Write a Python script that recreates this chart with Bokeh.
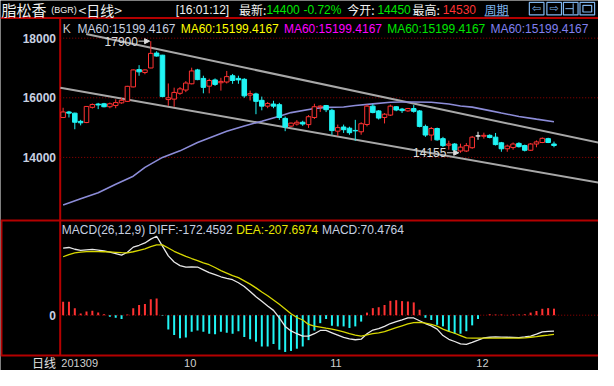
from bokeh.plotting import figure
from bokeh.models import Range1d, Arrow, NormalHead
from bokeh.core.properties import value
from bokeh.embed import file_html
from bokeh.resources import INLINE

# ---------------- data ----------------
opens = [15340, 15525, 15485, 15210, 15170, 15680, 15790, 15800, 15700, 15740,
         15830, 15880, 16365, 16945, 16850, 17000, 17500, 17430, 15940, 15955,
         16150, 16260, 16470, 16935, 16650, 16390, 16600, 16505, 16530, 16740,
         16650, 16620, 16090, 16130, 15915, 15720, 15790, 15770, 15310, 15050,
         15120, 15180, 15100, 15340, 15690, 15740, 15580, 14880, 15020, 14980,
         14905, 14860, 15105, 15720, 15560, 15340, 15420, 15700, 15620, 15560,
         15640, 15560, 15040, 14750, 14970, 14630, 14410, 14450, 14215, 14215,
         14325, 14720, 14710, 14740, 14680, 14490, 14290, 14330, 14470, 14400,
         14240, 14450, 14500, 14630, 14450]
highs = [15665, 15560, 15500, 15260, 15720, 15810, 15830, 15830, 15840, 15950,
         16000, 16400, 16950, 17095, 16950, 17900, 17560, 17440, 16480, 16340,
         16360, 16560, 17010, 16970, 16740, 16640, 16650, 16670, 16900, 16800,
         16740, 16660, 16240, 16170, 16040, 15860, 15900, 15830, 15370, 15170,
         15250, 15230, 15420, 15800, 15750, 15760, 15630, 15100, 15100, 15030,
         15260, 15180, 15770, 15790, 15590, 15485, 15770, 15720, 15660, 15660,
         15760, 15590, 15100, 15020, 15000, 14690, 14560, 14480, 14460, 14480,
         14720, 14860, 14830, 14775, 14820, 14520, 14430, 14500, 14510, 14430,
         14480, 14570, 14670, 14660, 14530]
lows = [15320, 15340, 14945, 15075, 15150, 15640, 15620, 15680, 15650, 15650,
        15800, 15860, 16350, 16740, 16790, 16990, 17380, 16020, 15730, 15700,
        16100, 16190, 16450, 16590, 16150, 16150, 16400, 16240, 16480, 16470,
        16470, 16000, 15910, 15450, 15580, 15650, 15650, 15260, 14880, 15020,
        15070, 15060, 14990, 15290, 15525, 15520, 14760, 14720, 14820, 14760,
        14560, 14760, 15040, 15480, 15270, 15140, 15390, 15550, 15490, 15530,
        15500, 15010, 14690, 14560, 14560, 14350, 14260, 14200, 14155, 14180,
        14290, 14590, 14630, 14640, 14400, 14190, 14190, 14260, 14330, 14200,
        14220, 14340, 14480, 14480, 14340]
closes = [15525, 15485, 15180, 15160, 15710, 15775, 15760, 15700, 15800, 15840,
          15915, 16385, 16935, 16870, 16935, 17490, 17400, 16040, 16000, 16180,
          16300, 16495, 16900, 16610, 16350, 16580, 16450, 16550, 16710, 16580,
          16600, 16065, 16140, 15880, 15720, 15810, 15720, 15340, 15020, 15150,
          15180, 15120, 15365, 15700, 15720, 15600, 14900, 15000, 14930, 14830,
          14890, 15130, 15720, 15505, 15320, 15450, 15720, 15590, 15570, 15640,
          15545, 15040, 14750, 14970, 14590, 14395, 14450, 14245, 14345, 14395,
          14680, 14720, 14740, 14670, 14430, 14290, 14380, 14450, 14360, 14240,
          14450, 14520, 14640, 14500, 14400]

ma60_idx = [0, 3, 6, 9, 12, 14, 17, 20, 23, 25, 28, 31, 34, 37, 39, 43,
            45, 48, 50, 53, 56, 58, 60, 63, 66, 68, 70, 73, 75, 78, 81, 84]
ma60_val = [12406, 12615, 12816, 13100, 13370, 13665, 14000, 14220, 14500, 14655,
            14875, 15055, 15215, 15380, 15503, 15640, 15678, 15690, 15740, 15795,
            15850, 15858, 15858, 15848, 15793, 15725, 15687, 15570, 15490, 15374,
            15285, 15199]

diff_vals = [724, 731, 712, 700, 705, 710, 702, 693, 680, 665,
             648, 680, 735, 755, 780, 821, 852, 745, 640, 575,
             535, 518, 522, 520, 490, 460, 438, 415, 398, 383,
             350, 310, 255, 200, 150, 100, 52, -30, -121, -170,
             -200, -225, -225, -200, -165, -165, -190, -215, -240, -255,
             -265, -259, -200, -160, -145, -120, -90, -69, -50, -30,
             -30, -60, -90, -115, -150, -220, -260, -284, -310, -315,
             -294, -270, -245, -238, -235, -236, -238, -240, -242, -235,
             -225, -205, -180, -175, -172]
dea_vals = [631, 655, 673, 680, 686, 689, 687, 685, 683, 679,
            675, 673, 685, 700, 715, 740, 759, 759, 725, 690,
            662, 635, 612, 590, 565, 545, 515, 482, 455, 428,
            405, 370, 335, 295, 250, 210, 165, 118, 68, 15,
            -25, -52, -100, -118, -128, -140, -150, -163, -180, -200,
            -215, -225, -212, -200, -190, -178, -155, -135, -115, -95,
            -80, -77, -85, -100, -118, -150, -175, -195, -220, -245,
            -248, -248, -248, -248, -248, -248, -248, -248, -248, -245,
            -238, -232, -222, -215, -207]
macd_vals = [145, 145, 76, 17, 41, 48, 28, 10, -17, -28,
             -41, 7, 76, 110, 121, 173, 179, -7, -155, -214,
             -248, -241, -179, -166, -179, -200, -207, -179, -190, -200,
             -173, -235, -259, -286, -338, -338, -311, -373, -397, -386,
             -362, -338, -269, -166, -86, -41, -114, -121, -121, -138,
             -121, -69, 28, 76, 86, 110, 155, 162, 152, 148,
             138, 59, -28, -52, -104, -121, -179, -200, -200, -173,
             -110, -41, 0, 10, 7, 7, 3, 7, 7, 10,
             28, 45, 69, 76, 70.4764]

price_ticks = [14000, 16000, 18000]
macd_ticks = [0]
month_labels = ["201309", "10", "11", "12"]
month_idx = [0, 21, 46, 71]

trend_upper_x = [3.95, 91.6]
trend_upper_y = [18138, 14495]
trend_lower_x = [-0.47, 91.6]
trend_lower_y = [16340, 13154]

high_mark_idx, high_mark_val = 15, 17900
low_mark_idx, low_mark_val = 68, 14155

ma_label = "MA60:15199.4167"
macd_title = "MACD(26,12,9) DIFF:-172.4592"
dea_title = "DEA:-207.6974"
macd_last_title = "MACD:70.4764"
latest_price, change_pct, today_open, today_high = "14400", "-0.72%", "14450", "14530"
clock = "[16:01:12]"

# ---------------- layout (reference pixel grid -> data) ----------------
W, H = 598, 370
REF_W, REF_H = 614, 386
PX_PER_BAR = 6.0
FIRST_BAR_X = 64.3
PRICE_PER_PX = 32.154
PRICE_ANCHOR_Y = 39.3        # ref y of 18000
MACD_PER_PX = 10.35
MACD_ZERO_Y = 328.3

XS = -FIRST_BAR_X / PX_PER_BAR
XE = XS + REF_W / PX_PER_BAR
YT = 18000 + PRICE_ANCHOR_Y * PRICE_PER_PX
YB = YT - REF_H * PRICE_PER_PX
MT = MACD_ZERO_Y * MACD_PER_PX
MB = MT - REF_H * MACD_PER_PX


def rx(px):
    return XS + px / PX_PER_BAR


def ry(py):
    return YT - py * PRICE_PER_PX


LATIN = value("Liberation Sans")
CJK = value("Noto Sans CJK SC")
RED_LINE = "#b40000"
UP = "#ff3232"
DOWN = "#20f4f4"

p = figure(width=W, height=H, output_backend="svg", toolbar_location=None, tools="",
           x_range=Range1d(XS, XE), y_range=Range1d(YB, YT),
           x_axis_location=None, y_axis_location=None, min_border=0,
           background_fill_color="black", border_fill_color="black",
           outline_line_color=None)
p.grid.grid_line_color = None
p.extra_y_ranges = {"macd": Range1d(MB, MT)}

idx = list(range(len(opens)))

# panel frame lines
p.segment(x0=[XS, XS, XS, rx(1)], x1=[XE, XE, XE, rx(1)],
          y0=[ry(18.3), ry(229.5), ry(370.3), ry(229.5)],
          y1=[ry(18.3), ry(229.5), ry(370.3), ry(370.3)],
          line_color=RED_LINE, line_width=2)
p.segment(x0=[rx(61.3)], x1=[rx(61.3)], y0=[ry(18.3)], y1=[ry(370.3)],
          line_color=RED_LINE, line_width=2)

# dotted grid
p.segment(x0=[-0.5] * len(price_ticks), x1=[XE] * len(price_ticks),
          y0=price_ticks, y1=price_ticks, line_color="#9a0000", line_dash="1 2", line_width=1)
p.segment(x0=[-0.5], x1=[XE], y0=macd_ticks, y1=macd_ticks, line_color="#9a0000",
          line_dash="1 2", line_width=1, y_range_name="macd")

# channel lines
p.line(trend_upper_x, trend_upper_y, line_color="#a8a8a8", line_width=2)
p.line(trend_lower_x, trend_lower_y, line_color="#a8a8a8", line_width=2)

# MA60
p.line(ma60_idx, ma60_val, line_color="#8c8cd8", line_width=1.6)

# candles
cols, fills, tops, bots = [], [], [], []
for o, c in zip(opens, closes):
    if c > o:
        cols.append(UP); fills.append("black")
    elif c < o:
        cols.append(DOWN); fills.append(DOWN)
    else:
        cols.append("#f0f0f0"); fills.append("#f0f0f0")
    tops.append(max(o, c)); bots.append(min(o, c))
p.segment(x0=idx, x1=idx, y0=lows, y1=highs, line_color=cols, line_width=1)
p.vbar(x=idx, width=0.78, top=tops, bottom=bots, fill_color=fills, line_color=cols, line_width=1)

# high / low marks
mark_col = "#dcdcdc"
p.text(x=[high_mark_idx - 2.2], y=[high_mark_val], text=[str(high_mark_val)],
       text_color=mark_col, text_font=LATIN, text_font_size="12px",
       text_align="right", text_baseline="middle")
p.add_layout(Arrow(end=NormalHead(size=5, fill_color=mark_col, line_color=mark_col),
                   x_start=high_mark_idx - 2.1, y_start=high_mark_val,
                   x_end=high_mark_idx - 0.2, y_end=high_mark_val,
                   line_color=mark_col, line_width=1))
p.text(x=[low_mark_idx - 2.4], y=[low_mark_val], text=[str(low_mark_val)],
       text_color=mark_col, text_font=LATIN, text_font_size="12px",
       text_align="right", text_baseline="middle")
p.add_layout(Arrow(end=NormalHead(size=5, fill_color=mark_col, line_color=mark_col),
                   x_start=low_mark_idx - 2.3, y_start=low_mark_val,
                   x_end=low_mark_idx - 0.3, y_end=low_mark_val,
                   line_color=mark_col, line_width=1))

# MACD histogram and lines
hist_cols = [UP if v > 0 else DOWN for v in macd_vals]
p.segment(x0=idx, x1=idx, y0=[0] * len(idx), y1=macd_vals, line_color=hist_cols,
          line_width=2, y_range_name="macd")
p.line(idx, diff_vals, line_color="#e8e8e8", line_width=1.3, y_range_name="macd")
p.line(idx, dea_vals, line_color="#d8d800", line_width=1.3, y_range_name="macd")

# axis labels
tick_col = "#c8d0e0"
p.text(x=[rx(57)] * len(price_ticks), y=price_ticks, text=[str(t) for t in price_ticks],
       text_color=tick_col, text_font=LATIN, text_font_size="12px", text_font_style="bold",
       text_align="right", text_baseline="middle")
p.text(x=[rx(57)], y=macd_ticks, text=[str(t) for t in macd_ticks], y_range_name="macd",
       text_color=tick_col, text_font=LATIN, text_font_size="12px", text_font_style="bold",
       text_align="right", text_baseline="middle")
p.text(x=[i - 0.3 for i in month_idx], y=[ry(378)] * len(month_idx), text=month_labels,
       text_color="#d0d0d0", text_font=LATIN, text_font_size="11px",
       text_align="left", text_baseline="middle")
p.text(x=[rx(57)], y=[ry(378)], text=["日线"], text_color="#e0e0e0", text_font=CJK,
       text_font_size="12px", text_align="right", text_baseline="middle")

# main-panel legend
p.text(x=[rx(64)], y=[ry(29.5)], text=["K"], text_color="#c8c8c8", text_font=LATIN,
       text_font_size="12px", text_align="left", text_baseline="middle")
ma_cols = ["#c8d0e0", "#ffff00", "#ff00ff", "#00e600", "#8080f0"]
ma_x = [79, 185, 291, 397, 503]
p.text(x=[rx(v) for v in ma_x], y=[ry(29.5)] * 5, text=[ma_label] * 5, text_color=ma_cols,
       text_font=LATIN, text_font_size="12px", text_align="left", text_baseline="middle")

# MACD legend
p.text(x=[rx(63), rx(242), rx(330)], y=[ry(239.5)] * 3,
       text=[macd_title, dea_title, macd_last_title],
       text_color=["#c8d0e0", "#e6e600", "#c8d0e0"], text_font=LATIN,
       text_font_size="12px", text_align="left", text_baseline="middle")

# header
hy = ry(9.5)
p.text(x=[rx(1)], y=[hy], text=["脂松香"], text_color="#f0f0f0", text_font=CJK,
       text_font_size="15px", text_align="left", text_baseline="middle")
p.text(x=[rx(52)], y=[hy], text=["(BGR)"], text_color="#f0f0f0", text_font=LATIN,
       text_font_size="9px", text_align="left", text_baseline="middle")
p.text(x=[rx(80)], y=[hy], text=["<日线>"], text_color="#f0f0f0", text_font=CJK,
       text_font_size="14px", text_align="left", text_baseline="middle")
p.text(x=[rx(180)], y=[hy], text=[clock], text_color="#f0f0f0", text_font=LATIN,
       text_font_size="12px", text_align="left", text_baseline="middle")
p.text(x=[rx(245), rx(356), rx(423)], y=[hy] * 3, text=["最新:", "今开:", "最高:"],
       text_color="#f0f0f0", text_font=CJK, text_font_size="12px",
       text_align="left", text_baseline="middle")
p.text(x=[rx(273), rx(311), rx(387), rx(454)], y=[hy] * 4,
       text=[latest_price, change_pct, today_open, today_high],
       text_color=["#00e600", "#00e600", "#00e600", "#ff3232"], text_font=LATIN,
       text_font_size="12px", text_align="left", text_baseline="middle")
link_col = "#7fb4ec"
p.text(x=[rx(497)], y=[hy], text=["周期"], text_color=link_col, text_font=CJK,
       text_font_size="12px", text_align="left", text_baseline="middle")
p.segment(x0=[rx(497)], x1=[rx(522)], y0=[ry(16)], y1=[ry(16)], line_color=link_col, line_width=1)

# header buttons
bl = [543, 561, 578, 595]
p.quad(left=[rx(v) for v in bl], right=[rx(v + 15) for v in bl],
       top=[ry(2)] * 4, bottom=[ry(15)] * 4, fill_color=None, line_color=link_col, line_width=1.2)
p.text(x=[rx(550.5), rx(568.5)], y=[ry(8.5)] * 2, text=["⇦", "⇨"], text_color=link_col,
       text_font=value("DejaVu Sans"), text_font_size="11px", text_align="center",
       text_baseline="middle")
p.segment(x0=[rx(580), rx(588)], x1=[rx(588), rx(588)], y0=[ry(8.5), ry(3)],
          y1=[ry(8.5), ry(14)], line_color=link_col, line_width=1)
p.quad(left=[rx(598)], right=[rx(607)], top=[ry(5)], bottom=[ry(12)], fill_color=None,
       line_color=link_col, line_width=1.2)

open("out.html", "w").write(file_html(p, INLINE))
